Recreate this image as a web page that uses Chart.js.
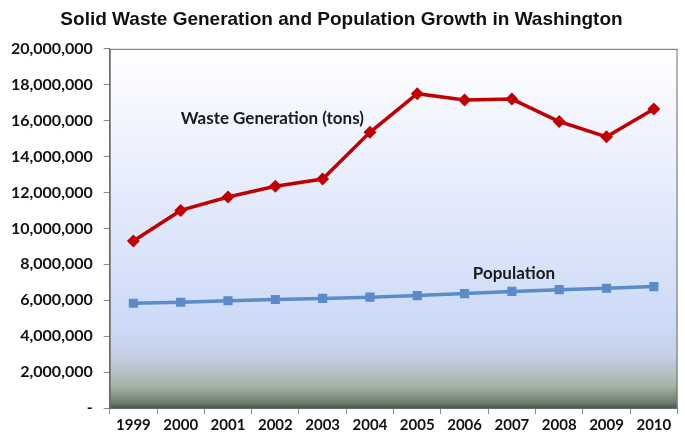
<!DOCTYPE html>
<html>
<head>
<meta charset="utf-8">
<script src="https://cdn.jsdelivr.net/npm/chart.js@4.4.1/dist/chart.umd.min.js"></script>
<style>
  html, body { margin: 0; padding: 0; background: #fff; }
  #wrap { width: 685px; height: 436px; }
</style>
</head>
<body>
<div id="wrap"><canvas id="chart" width="685" height="436"></canvas></div>
<script>
const years = ["1999", "2000", "2001", "2002", "2003", "2004", "2005", "2006", "2007", "2008", "2009", "2010"];
const wasteTons = [9300000, 11000000, 11750000, 12350000, 12750000, 15350000, 17500000, 17150000, 17200000, 15950000, 15100000, 16650000];
const population = [5830000, 5890000, 5970000, 6040000, 6100000, 6170000, 6260000, 6370000, 6490000, 6590000, 6670000, 6760000];
const yTicks = [0, 2000000, 4000000, 6000000, 8000000, 10000000, 12000000, 14000000, 16000000, 18000000, 20000000];

// plot background: white at top, pale blue, then dark grey-green at the floor
const plotBackground = {
  id: "plotBackground",
  beforeDraw(chart) {
    const { ctx, chartArea: a } = chart;
    const g = ctx.createLinearGradient(0, a.top, 0, a.bottom);
    g.addColorStop(0, "#ffffff");
    g.addColorStop(0.45, "#e2e9fb");
    g.addColorStop(0.78, "#ccd9f7");
    g.addColorStop(0.86, "#c3cfe2");
    g.addColorStop(0.94, "#a5b3a6");
    g.addColorStop(0.985, "#6d7e6c");
    g.addColorStop(1, "#4a5a4a");
    ctx.save();
    ctx.fillStyle = g;
    ctx.fillRect(a.left, a.top, a.right - a.left, a.bottom - a.top);
    ctx.strokeStyle = "#6b6b6b";
    ctx.lineWidth = 1;
    ctx.strokeRect(a.left + 0.5, a.top + 0.5, a.right - a.left - 1, a.bottom - a.top);
    ctx.restore();
  }
};

// series names written inside the plot
const seriesLabels = {
  id: "seriesLabels",
  afterDatasetsDraw(chart) {
    const { ctx, scales: { x, y } } = chart;
    ctx.save();
    ctx.font = "bold 17px Lato";
    ctx.fillStyle = "#1a1a1a";
    ctx.textAlign = "center";
    ctx.textBaseline = "middle";
    ctx.fillText("Waste Generation (tons)", (x.getPixelForValue(1) + x.getPixelForValue(5)) / 2 - 3, y.getPixelForValue(16100000));
    ctx.fillText("Population", (x.getPixelForValue(7) + x.getPixelForValue(9)) / 2 + 2, y.getPixelForValue(7500000));
    ctx.restore();
  }
};

new Chart(document.getElementById("chart"), {
  type: "line",
  data: {
    labels: years,
    datasets: [
      {
        label: "Waste Generation (tons)",
        data: wasteTons,
        borderColor: "#c00000",
        backgroundColor: "#c00000",
        borderWidth: 3.5,
        pointStyle: "rectRot",
        pointRadius: 4,
        tension: 0
      },
      {
        label: "Population",
        data: population,
        borderColor: "#5b8bc8",
        backgroundColor: "#5b8bc8",
        borderWidth: 3.5,
        pointStyle: "rect",
        pointRadius: 4,
        tension: 0
      }
    ]
  },
  options: {
    responsive: false,
    animation: false,
    layout: { padding: { left: 0, right: 2, top: 0, bottom: 0 } },
    plugins: {
      legend: { display: false },
      tooltip: { enabled: false },
      title: {
        display: true,
        text: "Solid Waste Generation and Population Growth in Washington",
        color: "#111",
        font: { family: "Liberation Sans", size: 19, weight: "bold" },
        padding: { top: 8, bottom: 18 }
      }
    },
    scales: {
      x: {
        offset: true,
        grid: { offset: true, drawOnChartArea: false, drawTicks: true, tickLength: 6, color: "#8a8a8a" },
        border: { color: "#6b6b6b" },
        ticks: { color: "#111", font: { family: "Lato", size: 15, weight: "bold" }, padding: 2, maxRotation: 0 }
      },
      y: {
        min: 0,
        max: 20000000,
        afterBuildTicks(axis) { axis.ticks = yTicks.map(v => ({ value: v })); },
        grid: { drawOnChartArea: false, drawTicks: true, tickLength: 6, color: "#8a8a8a" },
        border: { color: "#6b6b6b" },
        ticks: {
          color: "#111",
          font: { family: "Lato", size: 16, weight: "bold" },
          padding: 11,
          callback: v => v === 0 ? "-" : v.toLocaleString("en-US")
        }
      }
    }
  },
  plugins: [plotBackground, seriesLabels]
});
</script>
</body>
</html>
